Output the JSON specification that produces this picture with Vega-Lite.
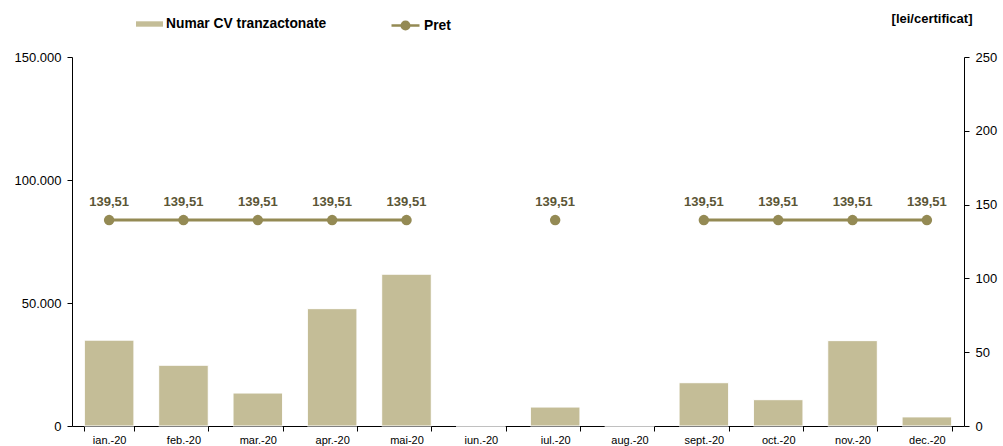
{
  "$schema": "https://vega.github.io/schema/vega-lite/v6.json",
  "width": 892,
  "height": 369,
  "autosize": {"type": "none"},
  "padding": {"left": 72, "top": 57, "right": 39, "bottom": 20},
  "background": "white",
  "config": {
    "font": "Liberation Sans",
    "view": {"stroke": null},
    "axis": {"domainColor": "#000", "tickColor": "#000", "labelColor": "#000", "grid": false, "labelFont": "Liberation Sans"}
  },
  "data": {"values": [
    {"luna": "ian.-20", "numar": 34900, "pret": 139.51},
    {"luna": "feb.-20", "numar": 24700, "pret": 139.51},
    {"luna": "mar.-20", "numar": 13400, "pret": 139.51},
    {"luna": "apr.-20", "numar": 47700, "pret": 139.51},
    {"luna": "mai-20", "numar": 61700, "pret": 139.51},
    {"luna": "iun.-20", "numar": 0, "pret": null},
    {"luna": "iul.-20", "numar": 7700, "pret": 139.51},
    {"luna": "aug.-20", "numar": 0, "pret": null},
    {"luna": "sept.-20", "numar": 17600, "pret": 139.51},
    {"luna": "oct.-20", "numar": 10700, "pret": 139.51},
    {"luna": "nov.-20", "numar": 34700, "pret": 139.51},
    {"luna": "dec.-20", "numar": 3700, "pret": 139.51}
  ]},
  "encoding": {
    "x": {"field": "luna", "type": "nominal", "sort": null,
      "scale": {"paddingInner": 0.333, "paddingOuter": 0.166},
      "axis": {"title": null, "labelAngle": 0, "tickBand": "extent", "tickSize": 5, "labelFontSize": 11, "labelPadding": 3}}
  },
  "layer": [
    {
      "mark": {"type": "bar", "stroke": "white", "strokeWidth": 1},
      "encoding": {
        "y": {"field": "numar", "type": "quantitative",
          "scale": {"domain": [0, 150000]},
          "axis": {"title": null, "orient": "left", "values": [0, 50000, 100000, 150000], "labelExpr": "replace(format(datum.value, ','), ',', '.')", "labelFontSize": 13, "tickSize": 5, "labelPadding": 6}},
        "fill": {"datum": "Numar CV tranzactonate", "type": "nominal",
          "scale": {"range": ["#C4BD97"]},
          "legend": {"title": null, "orient": "none", "legendX": 64, "legendY": -46.5,
            "symbolType": "M-1,-0.2H1V0.2H-1Z", "symbolSize": 729, "symbolStrokeWidth": 0,
            "labelFontSize": 13.8, "labelFontWeight": "bold", "labelColor": "#000", "labelOffset": 3, "labelLimit": 0}}
      }
    },
    {
      "mark": {"type": "line", "strokeWidth": 3, "invalid": "break-paths-show-domains"},
      "encoding": {
        "y": {"field": "pret", "type": "quantitative", "scale": {"domain": [0, 250]},
          "axis": {"orient": "right", "title": "[lei/certificat]", "values": [0, 50, 100, 150, 200, 250], "labelFontSize": 13, "tickSize": 5, "labelPadding": 6,
            "titleAngle": 0, "titleX": 8, "titleY": -39, "titleAlign": "right", "titleBaseline": "middle", "titleFontSize": 13, "titleFontWeight": "bold", "titleColor": "#000"}},
        "stroke": {"datum": "Pret", "type": "nominal",
          "scale": {"range": ["#948A54"]},
          "legend": {"title": null, "orient": "none", "legendX": 318, "legendY": -47,
            "symbolType": "M-1,0H1M-0.27,0A0.27,0.27 0 1,0 0.27,0A0.27,0.27 0 1,0 -0.27,0Z", "symbolSize": 784, "symbolStrokeWidth": 2.5, "symbolFillColor": "#948A54",
            "labelFontSize": 13.8, "labelFontWeight": "bold", "labelColor": "#000", "labelOffset": 3, "labelLimit": 0}}
      }
    },
    {
      "mark": {"type": "point", "filled": true, "size": 110, "color": "#948A54", "opacity": 1},
      "encoding": {
        "y": {"field": "pret", "type": "quantitative", "scale": {"domain": [0, 250]}, "axis": null}
      }
    },
    {
      "transform": [{"filter": "datum.pret != null"}, {"calculate": "replace(format(datum.pret, '.2f'), '.', ',')", "as": "eticheta"}],
      "mark": {"type": "text", "dy": -18, "fontSize": 13, "fontWeight": "bold", "color": "#5b5636"},
      "encoding": {
        "y": {"field": "pret", "type": "quantitative", "scale": {"domain": [0, 250]}, "axis": null},
        "text": {"field": "eticheta"}
      }
    }
  ],
  "resolve": {"scale": {"y": "independent"}}
}
